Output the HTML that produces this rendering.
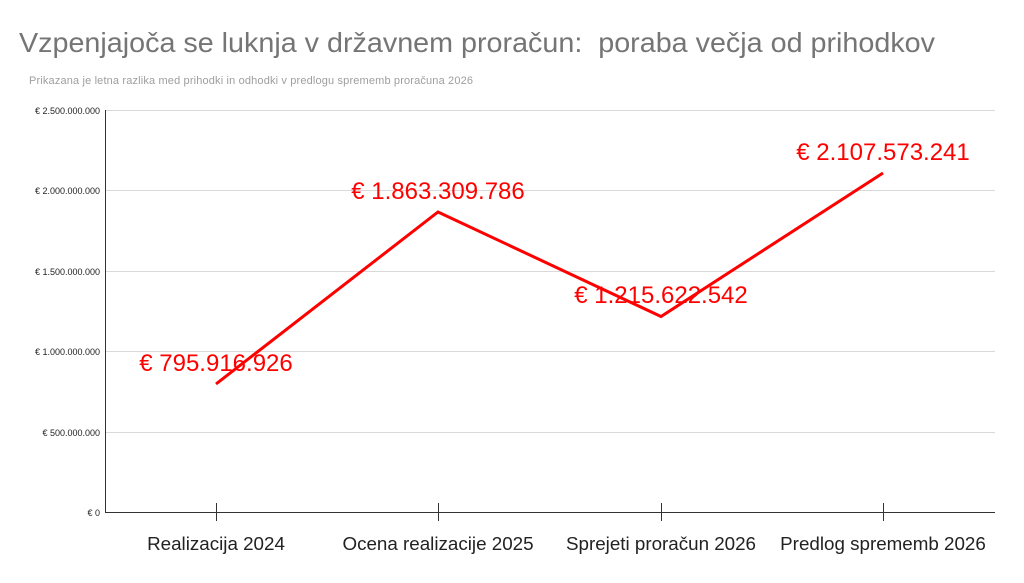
<!DOCTYPE html>
<html><head><meta charset="utf-8"><style>body{margin:0;background:#fff}svg{display:block}</style></head><body>
<svg width="1024" height="583" xmlns="http://www.w3.org/2000/svg" font-family="Liberation Sans, sans-serif">
<rect width="1024" height="583" fill="#fff"/>
<text x="19" y="52" font-size="28" fill="#757575" xml:space="preserve" textLength="916" lengthAdjust="spacingAndGlyphs">Vzpenjajoča se luknja v državnem proračun:  poraba večja od prihodkov</text>
<text x="29" y="84" font-size="11" fill="#9e9e9e" textLength="444">Prikazana je letna razlika med prihodki in odhodki v predlogu sprememb proračuna 2026</text>
<g stroke="#d9d9d9" stroke-width="1">
<line x1="105" y1="110.5" x2="995" y2="110.5"/>
<line x1="105" y1="190.5" x2="995" y2="190.5"/>
<line x1="105" y1="271.5" x2="995" y2="271.5"/>
<line x1="105" y1="351.5" x2="995" y2="351.5"/>
<line x1="105" y1="432.5" x2="995" y2="432.5"/>
</g>
<g stroke="#333" stroke-width="1">
<line x1="105.5" y1="110" x2="105.5" y2="512"/>
<line x1="105" y1="512.5" x2="995" y2="512.5"/>
<line x1="216.5" y1="503" x2="216.5" y2="521"/>
<line x1="438.5" y1="503" x2="438.5" y2="521"/>
<line x1="661.5" y1="503" x2="661.5" y2="521"/>
<line x1="883.5" y1="503" x2="883.5" y2="521"/>
</g>
<g font-size="9" fill="#222" text-anchor="end">
<text x="100" y="114">€ 2.500.000.000</text>
<text x="100" y="194">€ 2.000.000.000</text>
<text x="100" y="275">€ 1.500.000.000</text>
<text x="100" y="355">€ 1.000.000.000</text>
<text x="100" y="436">€ 500.000.000</text>
<text x="100" y="516">€ 0</text>
</g>
<g font-size="18.8" fill="#222" text-anchor="middle">
<text x="216" y="550">Realizacija 2024</text>
<text x="438" y="550">Ocena realizacije 2025</text>
<text x="661" y="550">Sprejeti proračun 2026</text>
<text x="883" y="550">Predlog sprememb 2026</text>
</g>
<polyline points="216,384 438,212 661,316.5 883,173" fill="none" stroke="#ff0000" stroke-width="3" stroke-linejoin="miter"/>
<g font-size="24" fill="#ff0000" text-anchor="middle">
<text x="216" y="371">€ 795.916.926</text>
<text x="438" y="199">€ 1.863.309.786</text>
<text x="661" y="303">€ 1.215.622.542</text>
<text x="883" y="160">€ 2.107.573.241</text>
</g>
</svg>
</body></html>
